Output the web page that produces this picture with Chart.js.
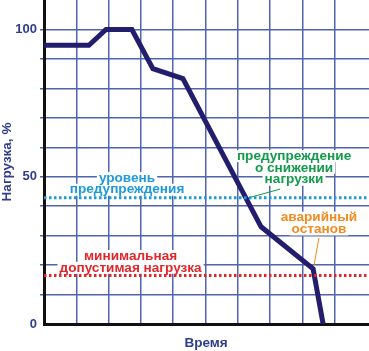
<!DOCTYPE html>
<html><head><meta charset="utf-8">
<script src="https://cdn.jsdelivr.net/npm/chart.js@4"></script>
<style>html,body{margin:0;padding:0;background:#fff}#w{width:369px;height:351px}</style>
</head><body><div id="w"><canvas id="c"></canvas></div>
<script>
// data
const timeX = [0, 1.39, 1.92, 2.72, 3.37, 4.30, 6.72, 8.33, 8.64];
const loadY = [94.6, 94.6, 100, 100, 86.7, 83.3, 33, 18.7, 0];
const warnLevel = 42.9;
const minLevel = 16.5;
const yTickLabels = [0, 50, 100];
const yTitle = 'Нагрузка, %';
const xTitle = 'Время';
const notes = [
  {lines:['уровень','предупреждения'], x:2.57, y:47.6, color:'#1e9ad8'},
  {lines:['минимальная','допустимая нагрузка'], x:2.68, y:21.1, color:'#e2262b'},
  {lines:['предупреждение','о снижении','нагрузки'], x:7.74, y:53.0, color:'#139a4a'},
  {lines:['аварийный','останов'], x:8.51, y:34.1, color:'#f28a1e'}
];
const leaders = [
  {from:[6.32,42.8], to:[7.31,45.8], color:'#139a4a'},
  {from:[8.51,29.2], to:[8.33,18.3], color:'#f28a1e'}
];

const FONT = '"Liberation Sans", Arial, sans-serif';
const TXT = '#2f3d8f';
const GRID = '#5164ad';

const pts = timeX.map((x,i)=>({x, y:loadY[i]}));
const annot = {
  id:'annot',
  beforeDatasetsDraw(chart){
    const ctx = chart.ctx, xs = chart.scales.x, ys = chart.scales.y;
    ctx.save();
    ctx.font = 'bold 13.6px ' + FONT;
    ctx.textAlign = 'center'; ctx.textBaseline = 'middle';
    const lh = 11.8;
    for (const n of notes){
      const cx = xs.getPixelForValue(n.x), cy = ys.getPixelForValue(n.y);
      const y0 = cy - (n.lines.length-1)*lh/2;
      n.lines.forEach((t,i)=>{
        const w = ctx.measureText(t).width;
        ctx.fillStyle = '#fff';
        ctx.fillRect(cx - w/2 - 2, y0 + i*lh - 6, w + 4, 12);
      });
      ctx.fillStyle = n.color;
      n.lines.forEach((t,i)=>ctx.fillText(t, cx, y0 + i*lh));
    }
    ctx.lineWidth = 1;
    for (const l of leaders){
      ctx.strokeStyle = l.color;
      ctx.beginPath();
      ctx.moveTo(xs.getPixelForValue(l.from[0]), ys.getPixelForValue(l.from[1]));
      ctx.lineTo(xs.getPixelForValue(l.to[0]), ys.getPixelForValue(l.to[1]));
      ctx.stroke();
    }
    ctx.restore();
  },
  afterDraw(chart){
    const ctx = chart.ctx, a = chart.chartArea;
    ctx.save();
    ctx.fillStyle = TXT;
    ctx.font = 'bold 13.5px ' + FONT;
    ctx.textAlign = 'center'; ctx.textBaseline = 'middle';
    ctx.fillText(xTitle, 206, 343);
    ctx.translate(7, 162);
    ctx.rotate(-Math.PI/2);
    ctx.fillText(yTitle, 0, 0);
    ctx.restore();
  }
};

new Chart(document.getElementById('c'), {
  type:'line',
  data:{datasets:[
    {data:[{x:0,y:warnLevel},{x:10.06,y:warnLevel}], borderColor:'#1e9ad8', borderWidth:3, borderDash:[2.5,2.5], pointRadius:0},
    {data:[{x:0,y:minLevel},{x:10.06,y:minLevel}], borderColor:'#e2262b', borderWidth:3, borderDash:[2.5,2.5], pointRadius:0},
    {data:pts, borderColor:'#221d6d', borderWidth:5, pointRadius:0, borderJoinStyle:'miter', tension:0}
  ]},
  options:{
    responsive:true, maintainAspectRatio:false, animation:false,
    layout:{padding:{top:0,right:0,bottom:0,left:0}},
    plugins:{legend:{display:false}, tooltip:{enabled:false}},
    scales:{
      x:{type:'linear', min:0, max:10.06,
        ticks:{display:false, stepSize:1},
        grid:{drawTicks:false, lineWidth:1.5, color:c=> (c.tick && (c.tick.value>10.01 || c.tick.value===0)) ? 'rgba(0,0,0,0)' : GRID},
        border:{display:true, color:'#111', width:3},
        afterFit(s){ s.height = 27; s.paddingLeft=0; s.paddingRight=0; }
      },
      y:{min:0, max:110,
        ticks:{stepSize:10, padding:3, color:TXT, font:{family:FONT, size:13, weight:'bold'},
          callback:v=> yTickLabels.includes(v) ? String(v) : ''},
        grid:{tickLength:4, lineWidth:1.5, color:c=> (c.tick && (c.tick.value>=110 || c.tick.value===0)) ? 'rgba(0,0,0,0)' : GRID},
        border:{display:true, color:'#111', width:3},
        afterFit(s){ s.width = 44; s.paddingTop=0; s.paddingBottom=0; }
      }
    }
  },
  plugins:[annot]
});
</script></body></html>
